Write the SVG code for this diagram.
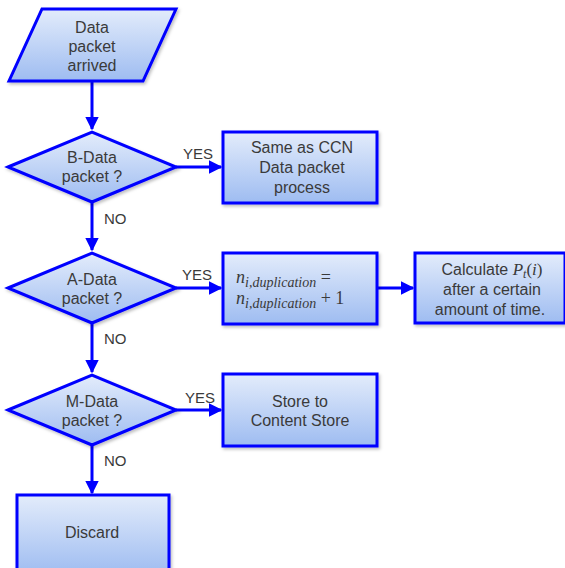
<svg xmlns="http://www.w3.org/2000/svg" width="565" height="568" viewBox="0 0 565 568">
  <defs>
    <linearGradient id="fillGrad" x1="0" y1="0" x2="0" y2="1">
      <stop offset="0" stop-color="#e3ecfb"/>
      <stop offset="1" stop-color="#9ebcf1"/>
    </linearGradient>
    <filter id="shadow" x="-10%" y="-10%" width="125%" height="130%">
      <feDropShadow dx="1.5" dy="2" stdDeviation="1.5" flood-color="#000" flood-opacity="0.25"/>
    </filter>
    <marker id="arrow" viewBox="0 0 10 10" refX="9" refY="5" markerWidth="4.5" markerHeight="4.5" orient="auto" markerUnits="strokeWidth">
      <path d="M0,0 L10,5 L0,10 z" fill="#0000ff"/>
    </marker>
  </defs>
  <style>
    .shape { fill: url(#fillGrad); stroke: #0000ff; stroke-width: 3; filter: url(#shadow); }
    .lbl { font-family: "Liberation Sans", Arial, sans-serif; font-size: 16px; fill: #3a3a3a; text-anchor: middle; }
    .edge { font-family: "Liberation Sans", Arial, sans-serif; font-size: 15px; fill: #3a3a3a; }
    .math { font-family: "Liberation Serif", "DejaVu Serif", serif; font-style: italic; fill: #3a3a3a; }
    .mathup { font-family: "Liberation Serif", "DejaVu Serif", serif; fill: #3a3a3a; }
    .conn { stroke: #0000ff; stroke-width: 3; fill: none; marker-end: url(#arrow); }
  </style>

  <rect width="565" height="568" fill="#ffffff"/>

  <g id="connectors">
    <line class="conn" x1="92" y1="81" x2="92" y2="129"/>
    <line class="conn" x1="176" y1="167" x2="221" y2="167"/>
    <line class="conn" x1="92" y1="202" x2="92" y2="250"/>
    <line class="conn" x1="176" y1="288" x2="221" y2="288"/>
    <line class="conn" x1="377" y1="288" x2="413" y2="288"/>
    <line class="conn" x1="92" y1="323" x2="92" y2="372"/>
    <line class="conn" x1="176" y1="410" x2="221" y2="410"/>
    <line class="conn" x1="92" y1="445" x2="92" y2="493"/>
    <text class="edge" x="183" y="159">YES</text>
    <text class="edge" x="104" y="224">NO</text>
    <text class="edge" x="182" y="280">YES</text>
    <text class="edge" x="104" y="344">NO</text>
    <text class="edge" x="185" y="403">YES</text>
    <text class="edge" x="104" y="466">NO</text>
  </g>

  <g id="start">
    <polygon class="shape" points="42,9 176,9 143,81 9,81"/>
    <text class="lbl" x="92" y="33">Data</text>
    <text class="lbl" x="92" y="52">packet</text>
    <text class="lbl" x="92" y="71">arrived</text>
  </g>

  <g id="decision-b">
    <polygon class="shape" points="8,167 92,132 176,167 92,202"/>
    <text class="lbl" x="92" y="163">B-Data</text>
    <text class="lbl" x="92" y="182">packet ?</text>
  </g>

  <g id="ccn-process">
    <rect class="shape" x="223" y="132" width="154" height="71"/>
    <text class="lbl" x="302" y="153">Same as CCN</text>
    <text class="lbl" x="302" y="173">Data packet</text>
    <text class="lbl" x="302" y="193">process</text>
  </g>

  <g id="decision-a">
    <polygon class="shape" points="8,288 92,253 176,288 92,323"/>
    <text class="lbl" x="92" y="285">A-Data</text>
    <text class="lbl" x="92" y="304">packet ?</text>
  </g>

  <g id="duplication-count">
    <rect class="shape" x="223" y="253" width="154" height="71"/>
    <text x="236" y="283" font-size="18"><tspan class="math">n</tspan><tspan class="math" font-size="14" dy="4">i,duplication</tspan><tspan class="mathup" dy="-4"> =</tspan></text>
    <text x="236" y="304" font-size="18"><tspan class="math">n</tspan><tspan class="math" font-size="14" dy="4">i,duplication</tspan><tspan class="mathup" dy="-4"> + 1</tspan></text>
  </g>

  <g id="calculate">
    <rect class="shape" x="415" y="253" width="150" height="70"/>
    <text class="lbl" x="492" y="275">Calculate <tspan class="math" font-size="17">P</tspan><tspan class="math" font-size="12" dy="3">t</tspan><tspan class="mathup" font-size="17" dy="-3">(</tspan><tspan class="math" font-size="17">i</tspan><tspan class="mathup" font-size="17">)</tspan></text>
    <text class="lbl" x="492" y="295">after a certain</text>
    <text class="lbl" x="490" y="315">amount of time.</text>
  </g>

  <g id="decision-m">
    <polygon class="shape" points="8,410 92,375 176,410 92,445"/>
    <text class="lbl" x="92" y="407">M-Data</text>
    <text class="lbl" x="92" y="426">packet ?</text>
  </g>

  <g id="store">
    <rect class="shape" x="223" y="374" width="154" height="72"/>
    <text class="lbl" x="300" y="407">Store to</text>
    <text class="lbl" x="300" y="426">Content Store</text>
  </g>

  <g id="discard">
    <rect class="shape" x="17" y="495" width="152" height="80"/>
    <text class="lbl" x="92" y="538">Discard</text>
  </g>
</svg>
